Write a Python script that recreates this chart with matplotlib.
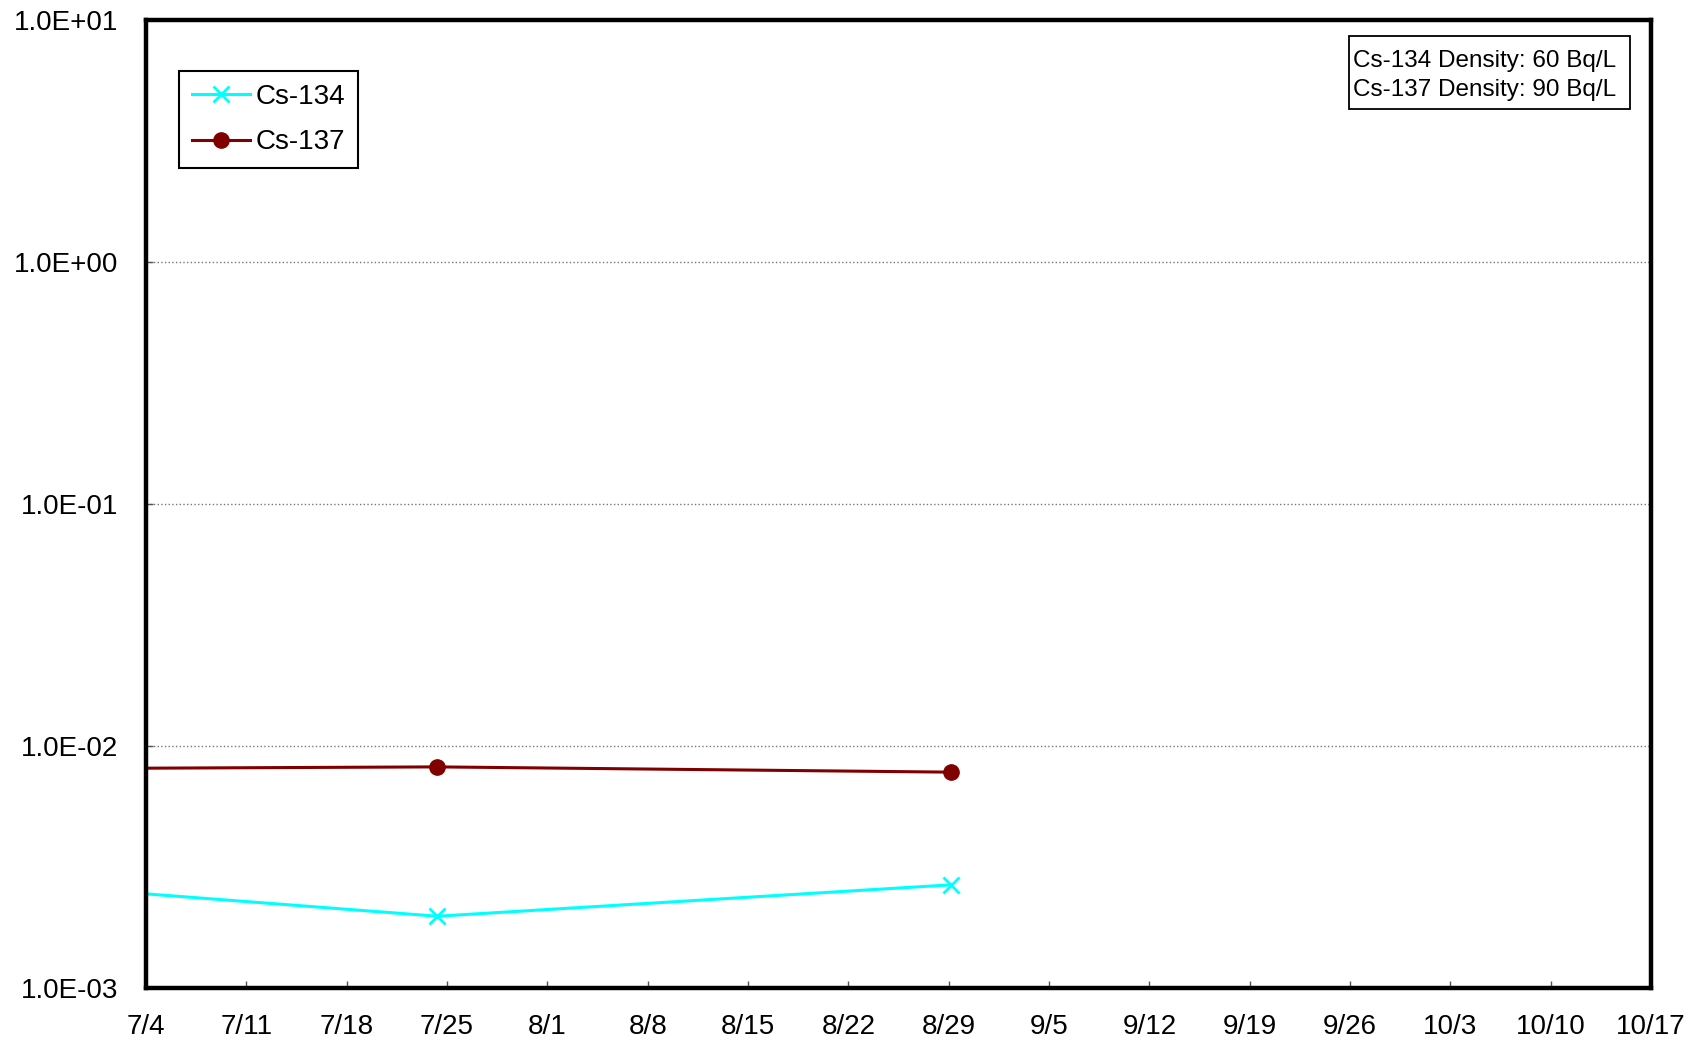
import matplotlib.pyplot as plt
from matplotlib.patches import Rectangle
from matplotlib.ticker import FixedLocator, NullLocator
import pandas as pd

plt.rcParams['font.family'] = ['Liberation Sans', 'DejaVu Sans']

# Data
cs134_dates = pd.to_datetime(['2011-07-04 00:00', '2011-07-24 08:00', '2011-08-29 04:00'])
cs134_values = [2.45e-3, 1.98e-3, 2.67e-3]
cs137_dates = pd.to_datetime(['2011-07-04 00:00', '2011-07-24 08:00', '2011-08-29 04:00'])
cs137_values = [8.1e-3, 8.2e-3, 7.8e-3]

x_ticks = pd.date_range('2011-07-04', '2011-10-17', freq='7D')
x_tick_labels = [f'{d.month}/{d.day}' for d in x_ticks]
y_ticks = [1e-3, 1e-2, 1e-1, 1e0, 1e1]
y_tick_labels = ['1.0E-03', '1.0E-02', '1.0E-01', '1.0E+00', '1.0E+01']
density_text = 'Cs-134 Density: 60 Bq/L\nCs-137 Density: 90 Bq/L'

fig = plt.figure(figsize=(16.97, 10.43), dpi=100)
ax = fig.add_axes([0.0860, 0.0527, 0.8869, 0.9281])

ax.plot(cs134_dates, cs134_values, color='#00FFFF', lw=2.2, marker='x',
        ms=11, mew=2, markevery=[1, 2], label='Cs-134')
ax.plot(cs137_dates, cs137_values, color='#800000', lw=2.2, marker='o',
        ms=11, markevery=[1, 2], label='Cs-137')

ax.set_yscale('log')
ax.set_ylim(1e-3, 1e1)
ax.set_xlim(x_ticks[0], x_ticks[-1])

ax.yaxis.set_major_locator(FixedLocator(y_ticks))
ax.yaxis.set_minor_locator(NullLocator())
ax.set_yticklabels(y_tick_labels)
ax.set_xticks(x_ticks)
ax.set_xticklabels(x_tick_labels)

ax.tick_params(axis='both', which='major', direction='in', length=5,
               width=1, labelsize=20, color='#555555')
ax.tick_params(axis='x', pad=19)
ax.tick_params(axis='y', pad=20)

ax.grid(axis='y', which='major', linestyle=':', color='#777777', lw=1)
for s in ax.spines.values():
    s.set_linewidth(3.2)
    s.set_color('black')

leg = ax.legend(loc='upper left', bbox_to_anchor=(0.022, 0.947),
                borderaxespad=0, fontsize=20, fancybox=False,
                edgecolor='black', framealpha=1, handlelength=2.1,
                handletextpad=0.2, labelspacing=0.7, borderpad=0.45)
leg.get_frame().set_linewidth(1.5)

# density info box
ax.add_patch(Rectangle((0.7993, 0.9081), 0.1867, 0.0754, transform=ax.transAxes,
                       fc='white', ec='black', lw=1.3, zorder=5))
ax.text(0.8020, 0.9425, density_text, transform=ax.transAxes, fontsize=17.5,
        ha='left', va='center', zorder=6, linespacing=1.38)

fig.savefig('out.png', dpi=100)
